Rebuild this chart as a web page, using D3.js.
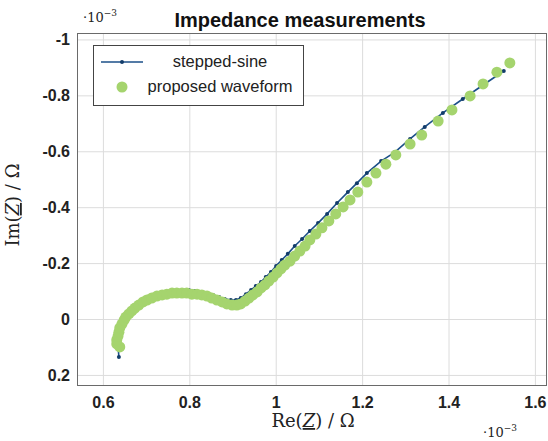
<!DOCTYPE html>
<html>
<head>
<meta charset="utf-8">
<title>Impedance measurements</title>
<script src="https://cdn.jsdelivr.net/npm/d3@7"></script>
<style type="text/css">
body{ margin:0; background:#fff; }
.grid line{ stroke:#dcdcdc; stroke-width:1; }
.grid path{ display:none; }
.tick-label text{ font-family:"Liberation Sans", Arial, sans-serif; font-weight:bold; font-size:16px; fill:#222; }
.frame{ fill:none; stroke:#6a6a6a; stroke-width:1; }
.sine-line{ fill:none; stroke:#1b4f88; stroke-width:1.6; }
.sine-dot{ fill:#123c6a; }
.wave-dot{ fill:#a5d46e; }
.math{ font-family:"DejaVu Serif", "Liberation Serif", serif; fill:#222; }
</style>
</head>
<body>
<script>
// values in 1e-3 Ohm
var xTicks = [0.6, 0.8, 1, 1.2, 1.4, 1.6];
var yTicks = [-1, -0.8, -0.6, -0.4, -0.2, 0, 0.2];

// stepped-sine reference
var sineRe = [0.637,0.635,0.635,0.637,0.642,0.646,0.653,0.660,0.669,0.679,0.690,0.702,0.716,0.730,0.744,0.757,
	0.771,0.785,0.799,0.813,0.827,0.841,0.855,0.869,0.882,0.896,0.908,0.919,0.931,0.943,0.954,0.966,0.977,0.989,
	1.001,1.014,1.028,1.044,1.061,1.079,1.098,1.119,1.142,1.167,1.188,1.211,1.244,1.276,1.311,1.345,1.387,1.433,1.480,1.528];
var sineIm = [0.136,0.097,0.068,0.047,0.025,0.007,-0.011,-0.025,-0.039,-0.050,-0.061,-0.072,-0.082,-0.089,-0.097,-0.100,
	-0.104,-0.104,-0.104,-0.100,-0.097,-0.093,-0.086,-0.079,-0.072,-0.068,-0.068,-0.075,-0.089,-0.104,-0.118,-0.132,-0.150,-0.168,
	-0.190,-0.211,-0.233,-0.261,-0.286,-0.315,-0.343,-0.376,-0.415,-0.454,-0.486,-0.522,-0.565,-0.597,-0.644,-0.687,-0.737,-0.787,-0.837,-0.887];

// proposed waveform
var waveRe = [0.639,0.632,0.632,0.635,0.637,0.639,0.644,0.649,0.653,0.660,0.667,0.674,0.683,0.693,0.702,0.713,0.725,
	0.737,0.748,0.760,0.771,0.783,0.794,0.806,0.818,0.829,0.841,0.852,0.864,0.876,0.887,0.899,0.910,0.919,0.929,0.938,
	0.947,0.957,0.966,0.975,0.984,0.994,1.003,1.012,1.021,1.033,1.044,1.056,1.068,1.079,1.093,1.107,1.123,1.139,1.156,
	1.172,1.190,1.211,1.232,1.255,1.278,1.311,1.338,1.376,1.408,1.450,1.480,1.512,1.542];
var waveIm = [0.100,0.089,0.075,0.061,0.047,0.032,0.018,0.004,-0.007,-0.018,-0.029,-0.039,-0.050,-0.061,-0.068,-0.075,-0.082,
	-0.086,-0.089,-0.093,-0.093,-0.093,-0.093,-0.089,-0.089,-0.086,-0.082,-0.075,-0.068,-0.061,-0.054,-0.050,-0.050,-0.054,-0.064,-0.075,
	-0.086,-0.097,-0.111,-0.122,-0.136,-0.150,-0.165,-0.179,-0.193,-0.207,-0.225,-0.243,-0.261,-0.283,-0.304,-0.326,-0.351,-0.376,-0.401,
	-0.426,-0.454,-0.490,-0.522,-0.554,-0.587,-0.626,-0.658,-0.708,-0.748,-0.798,-0.841,-0.883,-0.916];

var W = 548, H = 441,
	pLeft = 77, pRight = 547, pTop = 33, pBottom = 385;

var svg = d3.select('body').append('svg').attr('width', W).attr('height', H);

var x = d3.scaleLinear().domain([0.54, 1.628]).range([pLeft, pRight]),
	y = d3.scaleLinear().domain([-1.023, 0.236]).range([pTop, pBottom]);

var fmt = function(d){ return String(+d.toFixed(1)); };

// grid
svg.append('g').attr('class', 'grid')
	.attr('transform', 'translate(0,' + pBottom + ')')
	.call(d3.axisBottom(x).tickValues(xTicks).tickSize(-(pBottom - pTop)).tickFormat(''));
svg.append('g').attr('class', 'grid')
	.attr('transform', 'translate(' + pLeft + ',0)')
	.call(d3.axisLeft(y).tickValues(yTicks).tickSize(-(pRight - pLeft)).tickFormat(''));

// tick labels
svg.append('g').attr('class', 'tick-label')
	.attr('transform', 'translate(0,' + pBottom + ')')
	.call(d3.axisBottom(x).tickValues(xTicks).tickSize(0).tickPadding(12).tickFormat(fmt))
	.call(function(g){ g.select('.domain').remove(); });
svg.append('g').attr('class', 'tick-label')
	.attr('transform', 'translate(' + pLeft + ',0)')
	.call(d3.axisLeft(y).tickValues(yTicks).tickSize(0).tickPadding(7).tickFormat(fmt))
	.call(function(g){ g.select('.domain').remove(); });

svg.append('rect').attr('class', 'frame')
	.attr('x', pLeft + 0.5).attr('y', pTop + 0.5)
	.attr('width', pRight - pLeft - 1).attr('height', pBottom - pTop);

// data
var sine = sineRe.map(function(r, i){ return [r, sineIm[i]]; }),
	wave = waveRe.map(function(r, i){ return [r, waveIm[i]]; });

var plot = svg.append('g');
var line = d3.line().x(function(d){ return x(d[0]); }).y(function(d){ return y(d[1]); });

plot.append('path').datum(sine).attr('class', 'sine-line').attr('d', line);
plot.selectAll('.sine-dot').data(sine).enter().append('circle')
	.attr('class', 'sine-dot').attr('r', 2)
	.attr('cx', function(d){ return x(d[0]); })
	.attr('cy', function(d){ return y(d[1]); });
plot.selectAll('.wave-dot').data(wave).enter().append('circle')
	.attr('class', 'wave-dot').attr('r', 5.5)
	.attr('cx', function(d){ return x(d[0]); })
	.attr('cy', function(d){ return y(d[1]); });

// title
svg.append('text').attr('x', 300).attr('y', 27).attr('text-anchor', 'middle')
	.style('font-family', '"Liberation Sans", Arial, sans-serif').style('font-weight', 'bold')
	.style('font-size', '20px').attr('fill', '#111').text('Impedance measurements');

// exponents
function exponent(px, py){
	var t = svg.append('text').attr('class', 'math').attr('x', px).attr('y', py).style('font-size', '13px');
	t.append('tspan').text('·10');
	t.append('tspan').attr('dy', -6).style('font-size', '9px').text('−3');
}
exponent(83, 22);
exponent(483, 437);

// axis labels
function axisLabel(t){
	t.attr('class', 'math').style('font-size', '18px');
	return t;
}
var xl = axisLabel(svg.append('text').attr('x', 313).attr('y', 427).attr('text-anchor', 'middle'));
xl.append('tspan').text('Re(');
xl.append('tspan').style('font-style', 'italic').style('text-decoration', 'underline').text('Z');
xl.append('tspan').text(') / Ω');

var yl = axisLabel(svg.append('text').attr('transform', 'translate(19,205) rotate(-90)').attr('text-anchor', 'middle'));
yl.append('tspan').text('Im(');
yl.append('tspan').style('font-style', 'italic').style('text-decoration', 'underline').text('Z');
yl.append('tspan').text(') / Ω');

// legend
var lg = svg.append('g');
lg.append('rect').attr('x', 93.5).attr('y', 45.5).attr('width', 210).attr('height', 60)
	.attr('fill', '#fff').attr('stroke', '#444');
lg.append('line').attr('x1', 101).attr('x2', 143).attr('y1', 62).attr('y2', 62).attr('class', 'sine-line');
lg.append('circle').attr('cx', 122).attr('cy', 62).attr('r', 2).attr('class', 'sine-dot');
lg.append('circle').attr('cx', 122).attr('cy', 87).attr('r', 5.5).attr('class', 'wave-dot');
lg.selectAll('.lt').data(['stepped-sine', 'proposed waveform']).enter().append('text')
	.attr('x', 220).attr('y', function(d, i){ return 67 + i * 25; })
	.attr('text-anchor', 'middle')
	.style('font-family', '"Liberation Sans", Arial, sans-serif').style('font-size', '16.5px')
	.attr('fill', '#222').text(function(d){ return d; });
</script>
</body>
</html>
